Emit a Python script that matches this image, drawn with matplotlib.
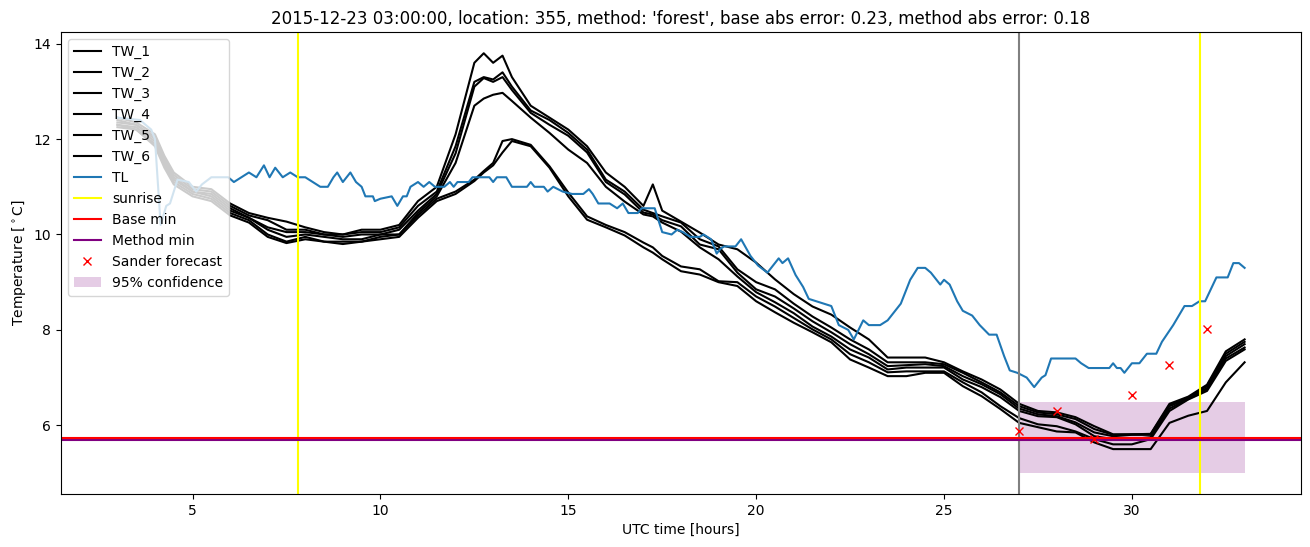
import matplotlib
matplotlib.use("Agg")
import matplotlib.pyplot as plt

# time grid (UTC hours) shared by the TW sensors
hours = [3.0, 3.5, 4.0, 4.25, 4.5, 5.0, 5.5, 6.0, 6.5, 7.0, 7.5, 8.0, 8.5, 9.0, 9.5,
         10.0, 10.5, 11.0, 11.5, 12.0, 12.5, 12.75, 13.0, 13.25, 13.5, 14.0, 14.5,
         15.0, 15.5, 16.0, 16.5, 17.0, 17.25, 17.5, 18.0, 18.5, 19.0, 19.5, 20.0,
         20.5, 21.0, 21.5, 22.0, 22.5, 23.0, 23.5, 24.0, 24.5, 25.0, 25.5, 26.0,
         26.5, 27.0, 27.5, 28.0, 28.5, 29.0, 29.5, 30.0, 30.5, 31.0, 31.5, 32.0,
         32.5, 33.0]

tw_1 = [12.45, 12.35, 12.1, 11.65, 11.3, 11.0, 10.95, 10.65, 10.45, 10.35, 10.27, 10.15,
        10.05, 10.0, 10.1, 10.1, 10.2, 10.7, 11.0, 12.1, 13.6, 13.8, 13.6, 13.75, 13.3,
        12.7, 12.45, 12.2, 11.85, 11.3, 11.0, 10.6, 11.05, 10.5, 10.27, 10.04, 9.79, 9.69,
        9.41, 9.06, 8.75, 8.49, 8.32, 8.05, 7.8, 7.42, 7.42, 7.42, 7.32, 7.13, 6.96, 6.75,
        6.45, 6.3, 6.27, 6.17, 5.98, 5.81, 5.81, 5.82, 6.45, 6.6, 6.85, 7.55, 7.8]
tw_2 = [12.4, 12.3, 12.05, 11.6, 11.25, 10.95, 10.9, 10.6, 10.4, 10.3, 10.1, 10.1, 10.0,
        10.0, 10.05, 10.05, 10.15, 10.6, 10.9, 11.85, 13.2, 13.3, 13.25, 13.4, 13.1, 12.6,
        12.4, 12.13, 11.78, 11.15, 10.9, 10.52, 10.45, 10.38, 10.25, 9.9, 9.75, 9.27, 9.0,
        8.85, 8.55, 8.28, 8.05, 7.8, 7.59, 7.32, 7.32, 7.32, 7.28, 7.1, 6.9, 6.69, 6.4,
        6.27, 6.23, 6.13, 5.92, 5.8, 5.81, 5.81, 6.42, 6.58, 6.82, 7.5, 7.75]
tw_3 = [12.35, 12.3, 12.0, 11.55, 11.2, 10.9, 10.85, 10.55, 10.35, 10.15, 10.05, 10.05,
        10.0, 9.95, 10.0, 10.0, 10.1, 10.5, 10.85, 11.7, 13.1, 13.28, 13.2, 13.3, 13.03,
        12.55, 12.3, 12.07, 11.72, 11.1, 10.84, 10.46, 10.42, 10.3, 10.17, 9.79, 9.69, 9.2,
        8.85, 8.7, 8.45, 8.18, 7.95, 7.7, 7.49, 7.24, 7.26, 7.28, 7.24, 7.03, 6.86, 6.65,
        6.35, 6.23, 6.19, 6.06, 5.85, 5.77, 5.8, 5.8, 6.4, 6.56, 6.78, 7.45, 7.7]
tw_4 = [12.3, 12.25, 11.95, 11.5, 11.15, 10.9, 10.8, 10.5, 10.35, 10.1, 9.95, 10.0, 9.95,
        9.9, 9.9, 10.0, 10.0, 10.45, 10.8, 11.5, 12.7, 12.85, 12.93, 12.97, 12.8, 12.45,
        12.13, 11.78, 11.5, 11.0, 10.69, 10.42, 10.38, 10.25, 10.06, 9.73, 9.48, 9.12, 8.79,
        8.58, 8.35, 8.07, 7.86, 7.59, 7.42, 7.17, 7.21, 7.21, 7.21, 6.96, 6.8, 6.59, 6.3,
        6.19, 6.17, 6.02, 5.77, 5.71, 5.71, 5.75, 6.35, 6.55, 6.75, 7.4, 7.63]
tw_5 = [12.3, 12.2, 11.9, 11.45, 11.1, 10.85, 10.75, 10.45, 10.3, 10.0, 9.85, 9.95, 9.85,
        9.85, 9.85, 9.95, 10.0, 10.4, 10.75, 10.9, 11.15, 11.33, 11.5, 11.96, 12.0, 11.88,
        11.43, 10.88, 10.38, 10.2, 10.05, 9.83, 9.73, 9.55, 9.33, 9.27, 9.02, 9.0, 8.7,
        8.49, 8.25, 8.01, 7.8, 7.49, 7.32, 7.11, 7.13, 7.13, 7.13, 6.9, 6.69, 6.4, 6.15,
        6.02, 5.98, 5.87, 5.71, 5.6, 5.6, 5.71, 6.3, 6.54, 6.72, 7.35, 7.59]
tw_6 = [12.25, 12.2, 11.85, 11.4, 11.05, 10.8, 10.7, 10.4, 10.25, 9.95, 9.82, 9.9, 9.85,
        9.8, 9.85, 9.9, 9.95, 10.35, 10.7, 10.85, 11.12, 11.3, 11.45, 11.72, 11.96, 11.85,
        11.4, 10.8, 10.31, 10.15, 9.98, 9.73, 9.62, 9.48, 9.23, 9.16, 9.0, 8.92, 8.6, 8.37,
        8.15, 7.95, 7.74, 7.38, 7.21, 7.03, 7.03, 7.1, 7.1, 6.82, 6.61, 6.34, 6.05, 5.96,
        5.87, 5.85, 5.64, 5.5, 5.5, 5.5, 6.05, 6.2, 6.3, 6.9, 7.32]

# air temperature (TL)
tl_hours = [3.0, 3.6, 3.9, 4.0, 4.15, 4.3, 4.4, 4.6, 4.9, 5.1, 5.25, 5.5, 5.95, 6.1, 6.3,
            6.5, 6.7, 6.9, 7.05, 7.2, 7.4, 7.6, 7.8, 8.0, 8.2, 8.4, 8.6, 8.75, 8.85, 9.0,
            9.2, 9.35, 9.5, 9.6, 9.8, 9.85, 10.0, 10.3, 10.45, 10.6, 10.7, 10.8, 11.0,
            11.15, 11.3, 11.45, 11.7, 11.85, 11.95, 12.05, 12.35, 12.45, 12.9, 13.0, 13.1,
            13.35, 13.5, 13.9, 14.0, 14.1, 14.35, 14.45, 14.6, 14.85, 15.1, 15.4, 15.55,
            15.65, 15.8, 16.1, 16.3, 16.45, 16.6, 16.85, 16.95, 17.3, 17.5, 17.75, 17.9,
            18.05, 18.25, 18.5, 18.6, 18.8, 18.95, 19.05, 19.15, 19.45, 19.6, 19.85, 20.05,
            20.3, 20.6, 20.7, 20.85, 21.05, 21.25, 21.4, 21.8, 22.0, 22.2, 22.45, 22.6,
            22.85, 23.0, 23.3, 23.5, 23.85, 24.1, 24.3, 24.5, 24.65, 24.9, 25.0, 25.15,
            25.35, 25.5, 25.75, 25.95, 26.2, 26.4, 26.6, 26.75, 26.95, 27.2, 27.4, 27.6,
            27.7, 27.85, 28.5, 28.65, 28.85, 29.4, 29.5, 29.6, 29.7, 29.8, 30.0, 30.2, 30.4,
            30.65, 30.8, 31.1, 31.4, 31.6, 31.8, 31.95, 32.25, 32.55, 32.7, 32.85, 33.0]
tl_values = [12.45, 12.4, 12.2, 12.0, 10.2, 10.6, 10.65, 11.15, 11.1, 10.9, 11.05, 11.2,
             11.2, 11.1, 11.2, 11.3, 11.2, 11.45, 11.2, 11.4, 11.2, 11.3, 11.2, 11.2, 11.1,
             11.0, 11.0, 11.2, 11.3, 11.1, 11.3, 11.1, 11.0, 10.8, 10.8, 10.7, 10.75, 10.8,
             10.6, 10.8, 10.8, 11.0, 11.1, 11.0, 11.1, 11.0, 11.0, 11.1, 11.0, 11.1, 11.1,
             11.2, 11.2, 11.1, 11.2, 11.2, 11.0, 11.0, 11.1, 11.0, 11.0, 10.9, 11.0, 10.9,
             10.85, 10.85, 10.95, 10.85, 10.65, 10.65, 10.55, 10.65, 10.45, 10.45, 10.55,
             10.55, 10.05, 10.0, 10.1, 10.05, 9.95, 9.95, 10.0, 9.9, 9.6, 9.7, 9.75, 9.75,
             9.9, 9.55, 9.35, 9.2, 9.5, 9.4, 9.5, 9.15, 8.9, 8.65, 8.55, 8.5, 8.1, 8.0, 7.8,
             8.2, 8.1, 8.1, 8.2, 8.55, 9.05, 9.3, 9.3, 9.2, 8.95, 9.05, 8.95, 8.6, 8.4, 8.3,
             8.1, 7.9, 7.9, 7.45, 7.15, 7.1, 7.0, 6.8, 7.0, 7.05, 7.4, 7.4, 7.3, 7.2, 7.2,
             7.3, 7.2, 7.2, 7.1, 7.3, 7.3, 7.5, 7.5, 7.75, 8.1, 8.5, 8.5, 8.6, 8.6, 9.1, 9.1,
             9.4, 9.4, 9.3]

sunrise_hours = [7.8, 31.8]
forecast_start = 27.0
base_min = 5.73
method_min = 5.69

sander_hours = [27, 28, 29, 30, 31, 32]
sander_values = [5.88, 6.29, 5.72, 6.63, 7.27, 8.01]

conf_hours = [27.0, 33.0]
conf_low = [5.0, 5.0]
conf_high = [6.48, 6.48]

fig, ax = plt.subplots(figsize=(13.1, 5.47), dpi=100)

tw_series = [tw_1, tw_2, tw_3, tw_4, tw_5, tw_6]
for i, tw in enumerate(tw_series):
    ax.plot(hours, tw, color="black", label=f"TW_{i + 1}")
ax.plot(tl_hours, tl_values, color="tab:blue", label="TL")

ax.axvline(sunrise_hours[0], color="yellow", label="sunrise")
ax.axvline(sunrise_hours[1], color="yellow")
ax.axvline(forecast_start, color="gray")
ax.axhline(method_min, color="purple")
ax.axhline(base_min, color="red", label="Base min")
# legend entry for method min kept after base min
ax.plot([], [], color="purple", label="Method min")
ax.plot(sander_hours, sander_values, "x", color="red", label="Sander forecast")
ax.fill_between(conf_hours, conf_low, conf_high, color="purple", alpha=0.2,
                linewidth=0, label="95% confidence")

ax.set_xlim(1.5, 34.5)
ax.set_ylim(4.56, 14.24)
ax.set_title("2015-12-23 03:00:00, location: 355, method: 'forest', "
             "base abs error: 0.23, method abs error: 0.18")
ax.set_xlabel("UTC time [hours]")
ax.set_ylabel(r"Temperature [$^\circ$C]")
ax.legend(loc="upper left")

fig.subplots_adjust(left=0.0466, right=0.9931, top=0.941, bottom=0.097)
fig.savefig("out.png")
plt.close()
